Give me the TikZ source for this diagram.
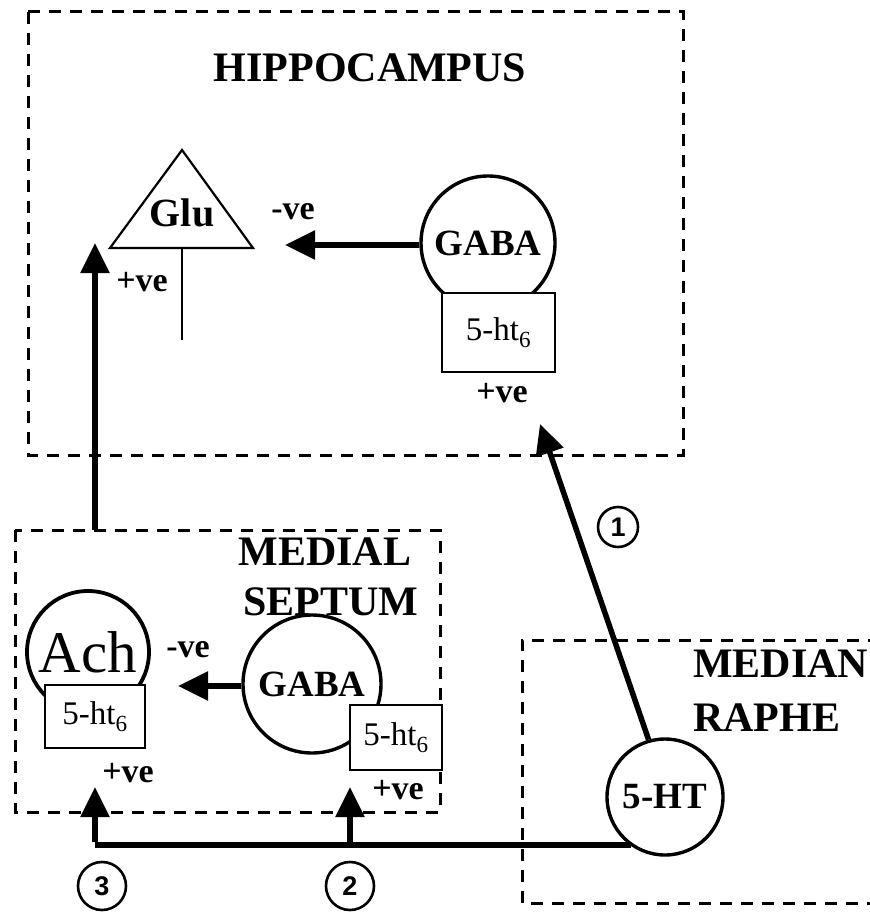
\documentclass[tikz,border=0pt]{standalone}
\usepackage{fontspec}
\setmainfont{Liberation Serif}
\newfontfamily\numfont{Liberation Sans}
\usetikzlibrary{arrows.meta}
\begin{document}
\begin{tikzpicture}[x=1pt,y=-1pt,
  region/.style={draw, line width=3pt, dash pattern=on 12pt off 9pt},
  cell/.style={draw, circle, line width=3.4pt, inner sep=0pt, font=\bfseries\fontsize{37}{37}\selectfont},
  recep/.style={draw, rectangle, fill=white, line width=2pt, inner sep=0pt, font=\fontsize{33}{33}\selectfont},
  lbl/.style={font=\bfseries\fontsize{34}{34}\selectfont, inner sep=0pt},
  head/.style={font=\bfseries\fontsize{42}{44}\selectfont, inner sep=0pt},
  num/.style={draw, circle, line width=2.6pt, inner sep=0pt, font=\numfont\bfseries\fontsize{27}{27}\selectfont},
  arr/.style={line width=5.5pt, -{Triangle[length=30pt,width=28pt]}},
  conn/.style={line width=5.5pt}
]
\useasboundingbox (0,0) rectangle (869,917);
% regions
\draw[region] (28,12) rectangle (683,455);
\draw[region] (15,530) rectangle (440,812);
\draw[region] (880,640) -- (522,640) -- (522,903) -- (880,903);
\node[head] (hip) at (370,68) {HIPPOCAMPUS};
\node[head] (ms1) at (325,552) {MEDIAL};
\node[head] (ms2) at (331,602) {SEPTUM};
\node[head, anchor=west] (mr1) at (693,664) {MEDIAN};
\node[head, anchor=west] (mr2) at (693,718) {RAPHE};
% hippocampus
\draw[line width=2.2pt, line join=miter] (110,248) -- (182,150) -- (253,248) -- cycle;
\node[lbl, font=\bfseries\fontsize{40}{40}\selectfont] (glu) at (182,213) {Glu};
\coordinate (glub) at (182,248);
\coordinate (glue) at (182,340);
\draw[line width=2.2pt] (glub) -- (glue);
\node[cell, minimum size=134pt] (gabah) at (488,243) {GABA};
\node[recep, minimum width=113pt, minimum height=79pt] (rh) at (498.5,332.5) {5-ht$_{\mathrm{6}}$};
\node[lbl] (mh) at (293,212) {-ve};
\node[lbl] (ph) at (502,393) {+ve};
\node[lbl] (pg) at (142,282) {+ve};
\coordinate (gtip) at (285,245);
\draw[arr] (gabah.west |- gtip) -- (gtip);
% septum
\node[cell, minimum size=122pt, line width=3.8pt, font=\fontsize{59}{59}\selectfont] (ach) at (88,652) {Ach};
\node[recep, minimum width=100pt, minimum height=63pt] (ra) at (95,716.5) {5-ht$_{\mathrm{6}}$};
\node[cell, minimum size=138pt] (gabas) at (312,684) {GABA};
\node[recep, minimum width=92pt, minimum height=65pt] (rs) at (396,737.5) {5-ht$_{\mathrm{6}}$};
\node[lbl] (ms) at (188,650) {-ve};
\node[lbl] (pa) at (128,773) {+ve};
\node[lbl] (ps) at (398,790) {+ve};
\coordinate (stip) at (178,686);
\draw[arr] (gabas.west |- stip) -- (stip);
\coordinate (msout) at (95,530);
\coordinate (htip) at (95,243);
\draw[arr] (msout) -- (htip);
% raphe
\node[cell, minimum size=116pt] (ht) at (665,797) {5-HT};
\coordinate (t1) at (540,424);
\draw[arr] (ht.106) -- (t1);
\coordinate (j3) at (95,845);
\coordinate (j2) at (350,845);
\coordinate (t3) at (95,787);
\coordinate (t2) at (350,787);
\draw[conn] (ht.232) |- (j3);
\draw[arr] ([yshift=2.75pt]j3) -- (t3);
\draw[arr] (j2) -- (t2);
\node[num, minimum size=40pt] (n1) at (618,527) {1};
\node[num, minimum size=48pt] (n3) at (102,886) {3};
\node[num, minimum size=48pt] (n2) at (350,886) {2};
\end{tikzpicture}
\end{document}
